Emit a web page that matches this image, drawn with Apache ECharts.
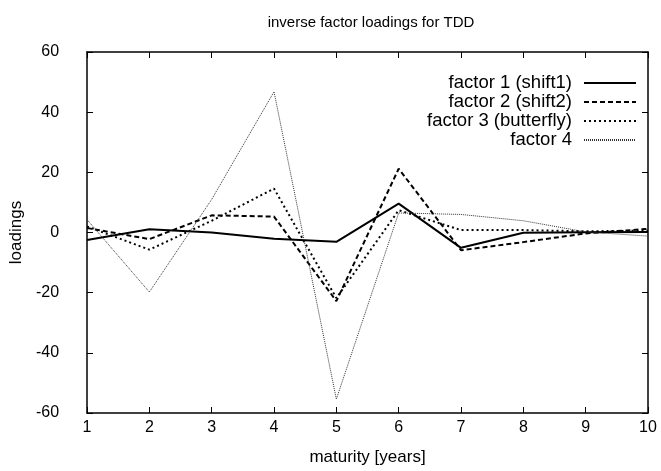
<!DOCTYPE html>
<html>
<head>
<meta charset="utf-8">
<title>inverse factor loadings for TDD</title>
<script src="https://cdn.jsdelivr.net/npm/echarts@6/dist/echarts.min.js"></script>
<style>
  html, body { margin: 0; padding: 0; background: #fff; }
  #chart { width: 661px; height: 471px; }
</style>
</head>
<body>
<div id="chart"></div>
<script>
// maturities (years)
const maturity = [1, 2, 3, 4, 5, 6, 7, 8, 9, 10]

// loadings
const factor1 = [-2.5, 1.1, 0.0, -2.1, -3.1, 9.6, -5.1, -0.1, 0.1, 0.2]
const factor2 = [1.5, -2.2, 5.7, 5.3, -22.8, 21.2, -5.9, -3.2, -0.3, 1.2]
const factor3 = [2.0, -5.7, 3.9, 14.6, -21.8, 7.4, 0.8, 0.8, 0.4, 0.6]
const factor4 = [4.3, -19.8, 11.0, 46.8, -55.4, 6.5, 6.0, 3.9, 0.2, -1.2]

const seriesNames = ['factor 1 (shift1)', 'factor 2 (shift2)', 'factor 3 (butterfly)', 'factor 4']
const yTicks = { min: -60, max: 60, step: 20 }

const font = 'Liberation Sans, Arial, sans-serif'

const pairs = vals => maturity.map((m, i) => [m, vals[i]])

const chart = echarts.init(document.getElementById('chart'))

// axis box shared by the four sides (gnuplot style mirrored ticks)
const boxLine = { show: true, onZero: false, lineStyle: { color: '#000', width: 1.5 } }
const boxTick = { show: true, inside: true, length: 6, lineStyle: { color: '#000', width: 1 } }

const option = {
  animation: false,
  backgroundColor: '#fff',
  title: {
    text: 'inverse factor loadings for TDD',
    left: 366,
    top: 10,
    textAlign: 'center',
    textStyle: { fontFamily: font, fontSize: 15, fontWeight: 'normal', color: '#000' }
  },
  legend: {
    orient: 'vertical',
    right: 24,
    top: 73.5,
    padding: 0,
    align: 'right',
    itemWidth: 52,
    itemHeight: 19,
    itemGap: 0,
    data: seriesNames,
    itemStyle: { opacity: 0 },
    textStyle: { fontFamily: font, fontSize: 18.5, color: '#000', lineHeight: 19, padding: [0, 7, 0, 0] }
  },
  grid: { left: 85, right: 13, top: 52, bottom: 57 },
  xAxis: [
    {
      type: 'value',
      min: 1,
      max: 10,
      interval: 1,
      name: 'maturity [years]',
      nameLocation: 'middle',
      nameGap: 36,
      nameTextStyle: { fontFamily: font, fontSize: 17, color: '#000' },
      axisLine: boxLine,
      axisTick: boxTick,
      axisLabel: { fontFamily: font, fontSize: 16, color: '#000', margin: 7 },
      splitLine: { show: false }
    },
    {
      type: 'value',
      position: 'top',
      min: 1,
      max: 10,
      interval: 1,
      axisLine: boxLine,
      axisTick: boxTick,
      axisLabel: { show: false },
      splitLine: { show: false }
    }
  ],
  yAxis: [
    {
      type: 'value',
      min: yTicks.min,
      max: yTicks.max,
      interval: yTicks.step,
      name: 'loadings',
      nameLocation: 'middle',
      nameGap: 62,
      nameTextStyle: { fontFamily: font, fontSize: 17, color: '#000' },
      axisLine: boxLine,
      axisTick: boxTick,
      axisLabel: { fontFamily: font, fontSize: 16, color: '#000', margin: 28 },
      splitLine: { show: false }
    },
    {
      type: 'value',
      position: 'right',
      min: yTicks.min,
      max: yTicks.max,
      interval: yTicks.step,
      axisLine: boxLine,
      axisTick: boxTick,
      axisLabel: { show: false },
      splitLine: { show: false }
    }
  ],
  series: [
    {
      name: seriesNames[0],
      type: 'line',
      data: pairs(factor1),
      symbol: 'none',
      color: '#000',
      lineStyle: { color: '#000', width: 2, type: 'solid' }
    },
    {
      name: seriesNames[1],
      type: 'line',
      data: pairs(factor2),
      symbol: 'none',
      color: '#000',
      lineStyle: { color: '#000', width: 2, type: [5, 3] }
    },
    {
      name: seriesNames[2],
      type: 'line',
      data: pairs(factor3),
      symbol: 'none',
      color: '#000',
      lineStyle: { color: '#000', width: 2, type: [2, 3] }
    },
    {
      name: seriesNames[3],
      type: 'line',
      data: pairs(factor4),
      symbol: 'none',
      color: '#333',
      lineStyle: { color: '#333', width: 1, type: [1, 1] }
    }
  ]
}

chart.setOption(option)
</script>
</body>
</html>
